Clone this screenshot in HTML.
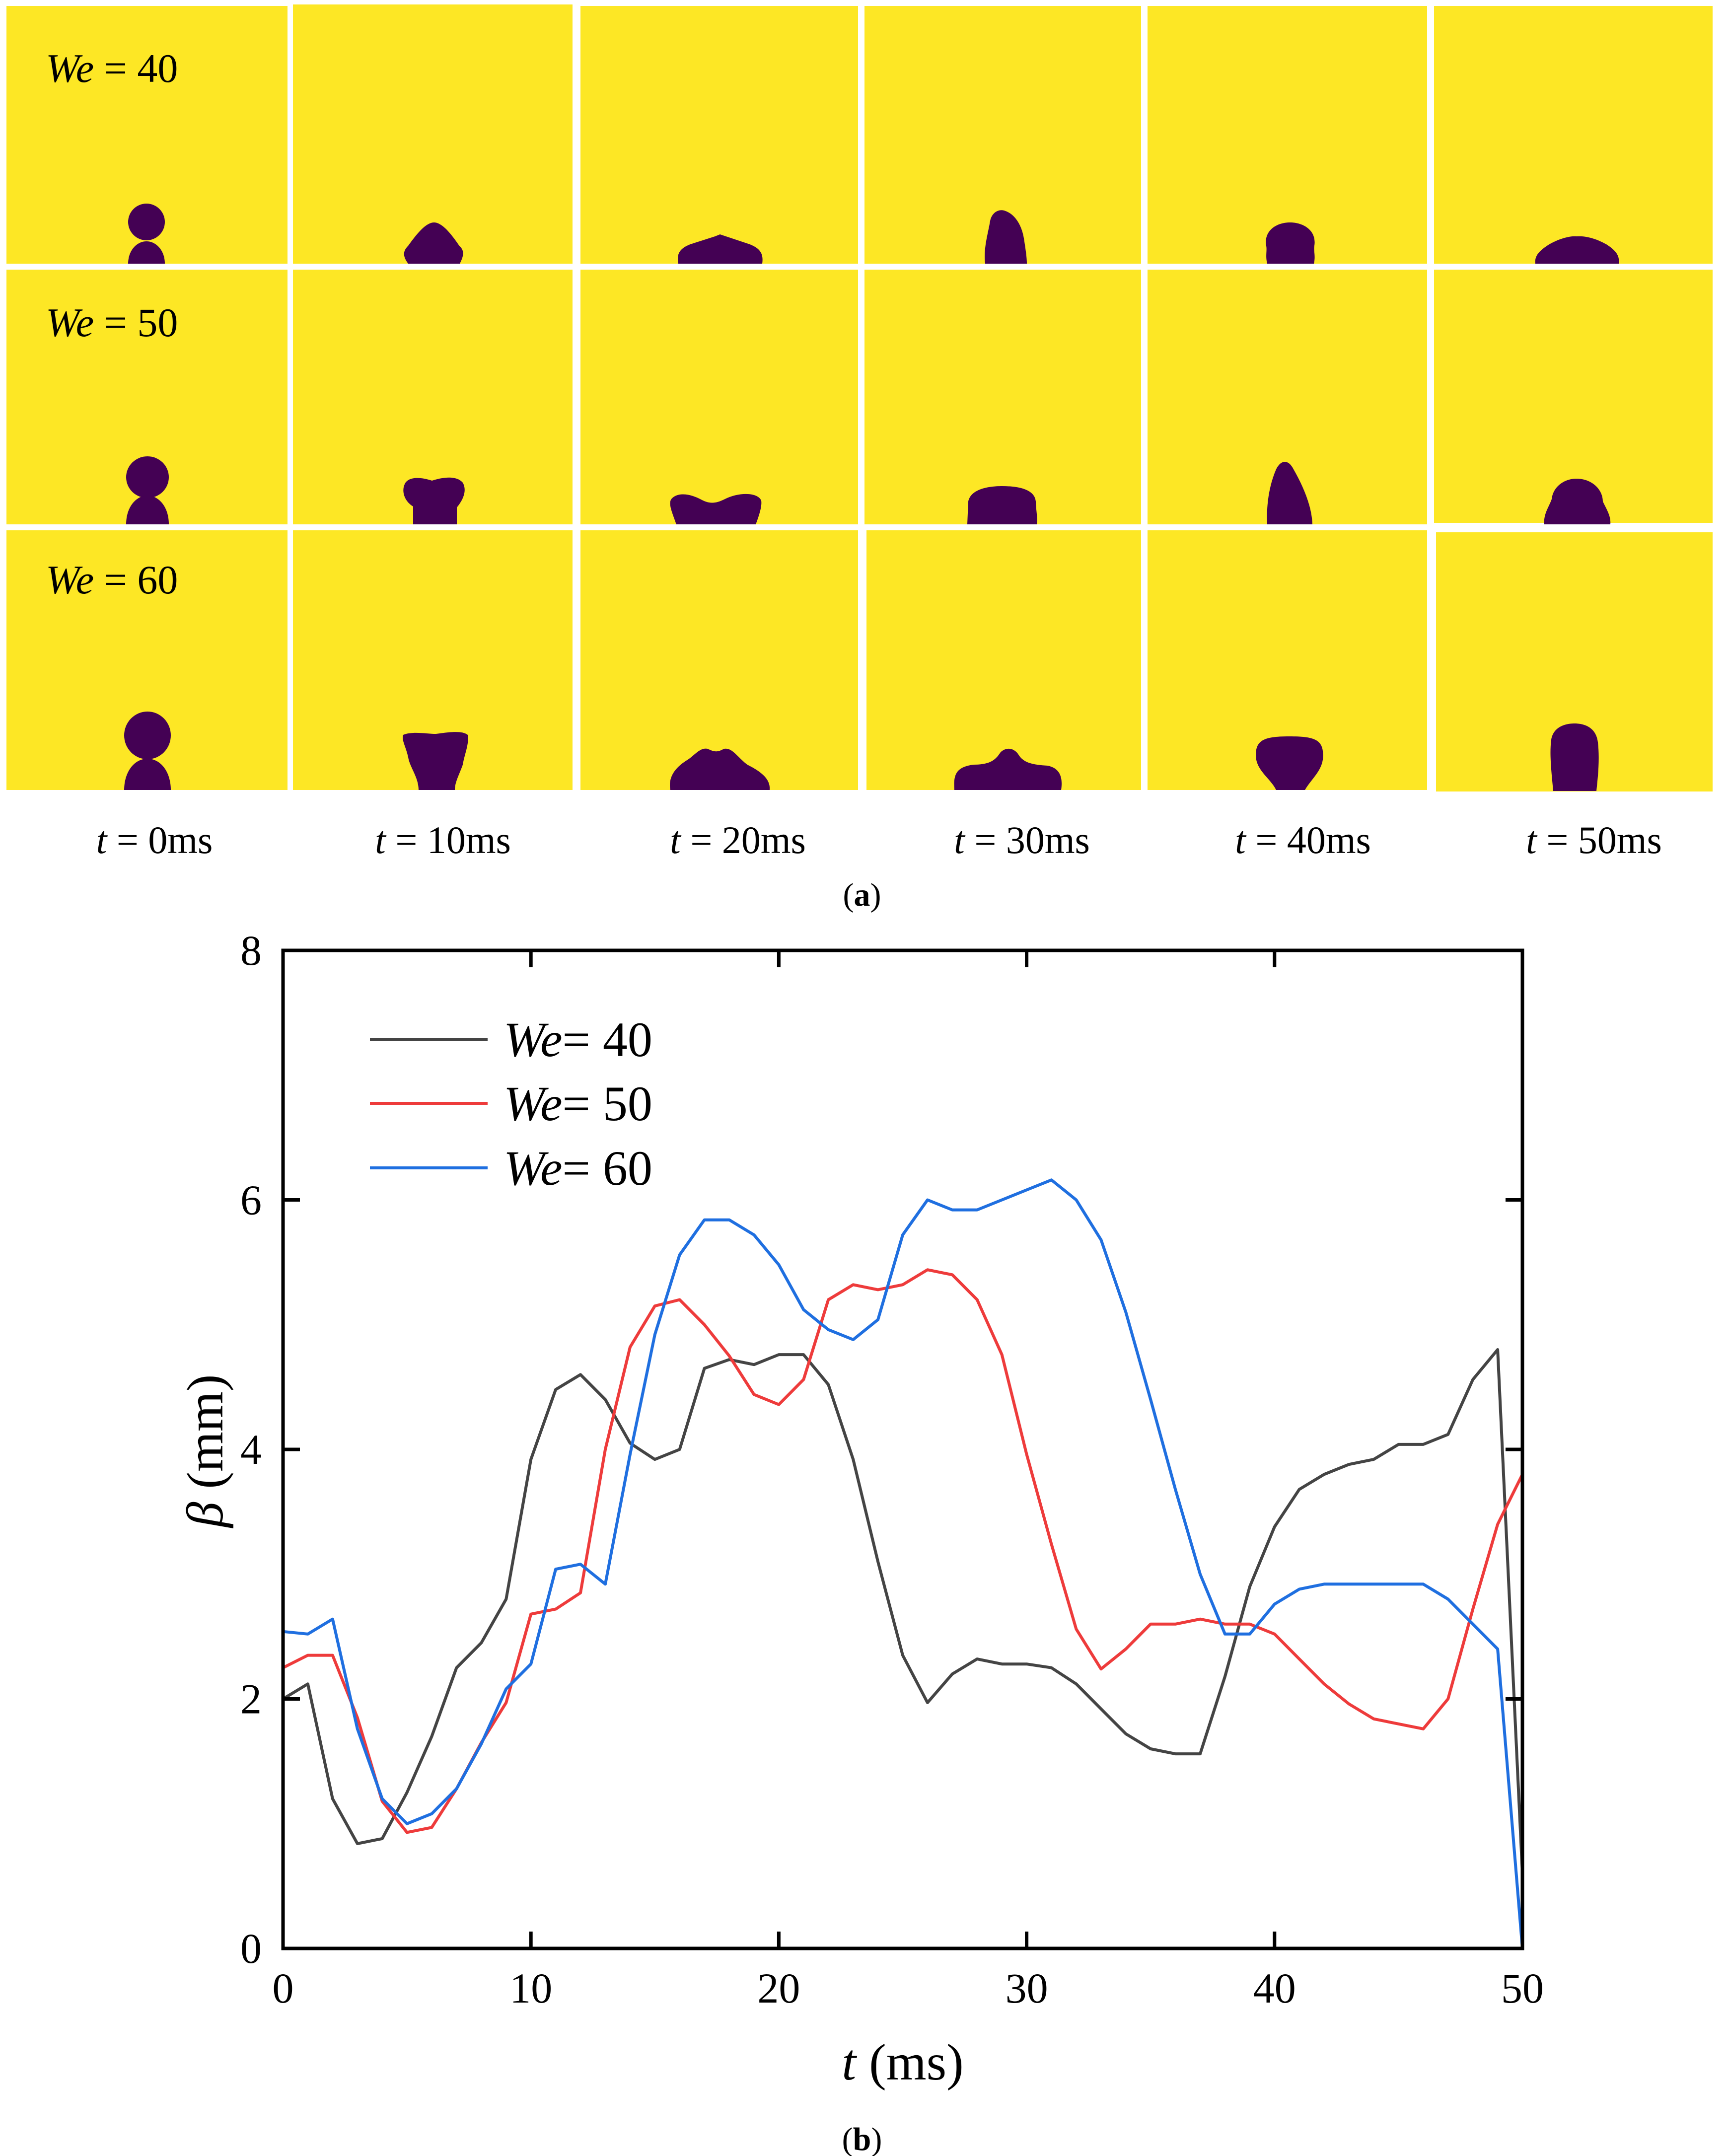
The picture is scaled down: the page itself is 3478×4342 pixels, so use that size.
<!DOCTYPE html>
<html><head><meta charset="utf-8"><style>
html,body{margin:0;padding:0;background:#fff;}
svg{display:block;}
svg text{font-family:"Liberation Serif","Times New Roman",serif;}
</style></head><body>
<svg id="fig" width="3478" height="4342" viewBox="0 0 3478 4342" xmlns="http://www.w3.org/2000/svg" font-family="Liberation Serif, serif">
<rect width="3478" height="4342" fill="#fff"/>
<g id="panels" fill="#440154">
  <rect x="13" y="12" width="566" height="519" fill="#fde725"/>
  <rect x="590" y="9" width="563" height="522" fill="#fde725"/>
  <rect x="1169" y="12" width="559" height="519" fill="#fde725"/>
  <rect x="1741" y="12" width="557" height="519" fill="#fde725"/>
  <rect x="2311" y="12" width="563" height="519" fill="#fde725"/>
  <rect x="2888" y="12" width="561" height="519" fill="#fde725"/>
  <rect x="13" y="543" width="566" height="513" fill="#fde725"/>
  <rect x="590" y="543" width="563" height="513" fill="#fde725"/>
  <rect x="1169" y="543" width="559" height="513" fill="#fde725"/>
  <rect x="1741" y="543" width="557" height="513" fill="#fde725"/>
  <rect x="2311" y="543" width="563" height="513" fill="#fde725"/>
  <rect x="2888" y="543" width="561" height="510" fill="#fde725"/>
  <rect x="13" y="1068" width="566" height="523" fill="#fde725"/>
  <rect x="590" y="1068" width="563" height="523" fill="#fde725"/>
  <rect x="1169" y="1068" width="559" height="523" fill="#fde725"/>
  <rect x="1745" y="1068" width="553" height="523" fill="#fde725"/>
  <rect x="2311" y="1068" width="563" height="523" fill="#fde725"/>
  <rect x="2892" y="1072" width="557" height="522" fill="#fde725"/>

  <g>
    <ellipse cx="295" cy="447" rx="37" ry="37"/>
    <path d="M258 531 C258 505 275 486 295 486 C315 486 332 505 332 531 Z"/>
  </g>
  <path d="M822 531 C810 515 812 505 822 495 C840 470 858 448 874 448 C890 448 908 470 925 495 C936 505 934 515 926 531 Z"/>
  <path d="M1366 531 C1362 510 1370 500 1390 492 L1440 476 L1450 472 L1462 476 L1510 492 C1530 500 1538 510 1535 531 Z"/>
  <path d="M1984 531 C1980 500 1990 470 1994 445 C1998 425 2015 420 2025 425 C2045 432 2058 455 2062 480 C2066 505 2068 520 2068 531 Z"/>
  <path d="M2552 531 C2548 515 2552 505 2550 495 C2545 465 2570 448 2598 448 C2626 448 2652 465 2647 495 C2645 505 2650 515 2646 531 Z"/>
  <path d="M3092 531 C3090 515 3100 505 3120 492 C3145 478 3165 475 3175 476 C3190 475 3210 478 3235 492 C3255 505 3262 515 3260 531 Z"/>
  <ellipse cx="297" cy="961" rx="43" ry="42"/>
  <path d="M254 1056 C254 1020 275 998 297 998 C319 998 340 1020 340 1056 Z"/>
  <path d="M832 1056 L832 1020 C815 1010 808 990 815 975 C822 960 845 960 870 968 C895 960 920 958 932 972 C942 990 930 1010 920 1022 L920 1056 Z"/>
  <path d="M1362 1056 C1355 1035 1345 1015 1352 1005 C1365 990 1390 995 1410 1005 C1428 1015 1440 1015 1460 1005 C1485 992 1525 990 1533 1008 C1535 1020 1528 1040 1522 1056 Z"/>
  <path d="M1948 1056 L1950 1010 C1955 985 1990 979 2018 979 C2050 979 2084 985 2086 1010 C2086 1025 2090 1040 2088 1056 Z"/>
  <path d="M2552 1056 C2550 1020 2555 980 2570 945 C2580 925 2595 925 2605 945 C2625 980 2642 1020 2643 1056 Z"/>
  <path d="M3110 1056 C3108 1035 3120 1020 3125 1005 C3128 980 3150 964 3175 964 C3205 964 3228 985 3228 1010 C3235 1025 3245 1040 3243 1056 Z"/>
  <ellipse cx="297" cy="1481" rx="47" ry="48"/>
  <path d="M250 1591 C250 1555 270 1528 297 1528 C324 1528 344 1555 344 1591 Z"/>
  <path d="M843 1591 C843 1565 825 1545 822 1525 C818 1505 808 1490 812 1480 C830 1472 860 1478 878 1478 C900 1475 930 1470 942 1480 C945 1500 935 1520 932 1540 C925 1560 916 1575 916 1591 Z"/>
  <path d="M1350 1591 C1345 1565 1360 1545 1385 1530 C1400 1520 1410 1505 1425 1508 C1440 1515 1445 1515 1458 1508 C1475 1505 1485 1525 1505 1540 C1535 1555 1552 1570 1550 1591 Z"/>
  <path d="M1922 1591 C1920 1560 1925 1545 1960 1540 C1995 1540 2005 1530 2015 1515 C2025 1505 2040 1505 2050 1518 C2060 1535 2075 1540 2110 1542 C2138 1548 2140 1570 2137 1591 Z"/>
  <path d="M2570 1591 C2560 1570 2535 1555 2530 1530 C2525 1490 2545 1483 2597 1483 C2650 1483 2668 1490 2664 1530 C2660 1555 2640 1570 2628 1591 Z"/>
  <path d="M3128 1593 C3125 1560 3120 1520 3124 1490 C3128 1465 3150 1457 3171 1457 C3195 1457 3215 1468 3218 1495 C3222 1530 3218 1565 3215 1593 Z"/>
</g>
<g id="panel-labels" font-size="82" fill="#000">
  <text x="92" y="165"><tspan font-style="italic">We</tspan> = 40</text>
  <text x="92" y="677"><tspan font-style="italic">We</tspan> = 50</text>
  <text x="92" y="1195"><tspan font-style="italic">We</tspan> = 60</text>
</g>
<g id="time-labels" font-size="78" fill="#000" text-anchor="middle">
  <text x="311" y="1718"><tspan font-style="italic">t</tspan> = 0ms</text>
  <text x="892" y="1718"><tspan font-style="italic">t</tspan> = 10ms</text>
  <text x="1486" y="1718"><tspan font-style="italic">t</tspan> = 20ms</text>
  <text x="2058" y="1718"><tspan font-style="italic">t</tspan> = 30ms</text>
  <text x="2624" y="1718"><tspan font-style="italic">t</tspan> = 40ms</text>
  <text x="3210" y="1718"><tspan font-style="italic">t</tspan> = 50ms</text>
</g>
<text x="1736" y="1824" font-size="66" text-anchor="middle">(<tspan font-weight="bold">a</tspan>)</text>
<g id="chart"></g>
<text x="1736" y="4330" font-size="66" text-anchor="middle">(<tspan font-weight="bold">b</tspan>)</text>
</svg>
<script>
const times = [];
for (let i = 0; i <= 50; i++) times.push(i);
const we40 = [2.0,2.12,1.2,0.84,0.88,1.25,1.7,2.25,2.45,2.8,3.92,4.48,4.6,4.4,4.05,3.92,4.0,4.65,4.72,4.68,4.76,4.76,4.52,3.92,3.1,2.35,1.97,2.2,2.32,2.28,2.28,2.25,2.12,1.92,1.72,1.6,1.56,1.56,2.18,2.9,3.38,3.68,3.8,3.88,3.92,4.04,4.04,4.12,4.56,4.8,0.6];
const we50 = [2.25,2.35,2.35,1.85,1.18,0.93,0.97,1.28,1.65,1.97,2.68,2.72,2.85,4.0,4.82,5.15,5.2,5.0,4.75,4.44,4.36,4.56,5.2,5.32,5.28,5.32,5.44,5.4,5.2,4.76,3.96,3.24,2.56,2.24,2.4,2.6,2.6,2.64,2.6,2.6,2.52,2.32,2.12,1.96,1.84,1.8,1.76,2.0,2.72,3.4,3.8];
const we60 = [2.54,2.52,2.64,1.76,1.2,1.0,1.08,1.28,1.64,2.08,2.28,3.04,3.08,2.92,3.96,4.92,5.56,5.84,5.84,5.72,5.48,5.12,4.96,4.88,5.04,5.72,6.0,5.92,5.92,6.0,6.08,6.16,6.0,5.68,5.1,4.4,3.68,3.0,2.52,2.52,2.76,2.88,2.92,2.92,2.92,2.92,2.92,2.8,2.6,2.4,0];
const xTicks = [0,10,20,30,40,50];
const yTicks = [0,2,4,6,8];
const seriesNames = ["We= 40","We= 50","We= 60"];

const NS = "http://www.w3.org/2000/svg";
const L = 570, R = 3066, T = 1914, B = 3924;
function xs(t){ return L + (t - 0) / 50 * (R - L); }
function ys(v){ return B - (v - 0) / 8 * (B - T); }
const chart = document.getElementById('chart');
function mk(tag, attrs, parent){
  const e = document.createElementNS(NS, tag);
  for (const k in attrs) e.setAttribute(k, attrs[k]);
  (parent || chart).appendChild(e);
  return e;
}
const colors = ["#444444","#ee3b3b","#1f6fe0"];
const series = [we40, we50, we60];
series.forEach((vals, si) => {
  const d = vals.map((v, i) => (i ? 'L' : 'M') + xs(times[i]).toFixed(1) + ' ' + ys(v).toFixed(1)).join(' ');
  const p = mk('path', {d: d, fill: 'none', stroke: colors[si], 'stroke-width': 6, 'stroke-linejoin': 'round'});
  
  
});
const frame = mk('rect', {x: L, y: T, width: R - L, height: B - T, fill: 'none', stroke: '#000', 'stroke-width': 7});


xTicks.forEach(t => {
  const x = xs(t);
  const tk = mk('path', {d: `M${x} ${B} V${B-34} M${x} ${T} V${T+34}`, stroke: '#000', 'stroke-width': 7});
  
  
  const lb = mk('text', {x: x, y: 4033, 'font-size': 86, 'text-anchor': 'middle'});
  lb.textContent = t;
  
  
});
yTicks.forEach(v => {
  const y = ys(v);
  const tk = mk('path', {d: `M${L} ${y} H${L+34} M${R} ${y} H${R-34}`, stroke: '#000', 'stroke-width': 7});
  
  
  const lb = mk('text', {x: 527, y: y + 29, 'font-size': 86, 'text-anchor': 'end'});
  lb.textContent = v;
  
  
});
const xt = mk('text', {x: 1818, y: 4188, 'font-size': 104, 'text-anchor': 'middle'});
xt.innerHTML = '<tspan font-style="italic">t</tspan> (ms)';


const yt = mk('text', {x: 0, y: 0, 'font-size': 104, 'text-anchor': 'middle', transform: 'translate(448 2922) rotate(-90)'});
yt.innerHTML = '<tspan font-style="italic">β</tspan> (mm)';


const legY = [2093, 2222, 2352];
seriesNames.forEach((name, i) => {
  const g = mk('g', {});
  
  
  mk('line', {x1: 745, x2: 982, y1: legY[i], y2: legY[i], stroke: colors[i], 'stroke-width': 6}, g);
  const tx = mk('text', {x: 1014, y: legY[i] + 34, 'font-size': 100}, g);
  tx.innerHTML = '<tspan font-style="italic">We</tspan>' + name.slice(2);
});
</script>
</body></html>
